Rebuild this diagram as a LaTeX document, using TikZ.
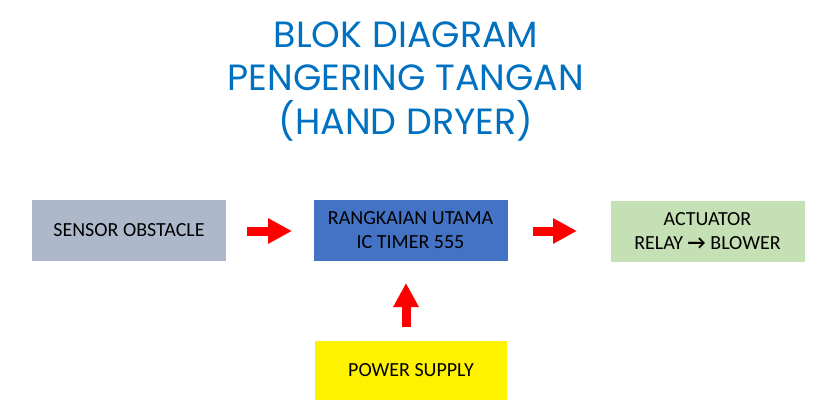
\documentclass[tikz,border=0pt]{standalone}
\usepackage{fontspec}
\setmainfont{Carlito}
\newfontfamily\titlefont{Poppins}
\usetikzlibrary{arrows.meta}
\definecolor{titleblue}{HTML}{0070C0}
\definecolor{sensorgray}{HTML}{ADB9CA}
\definecolor{mainblue}{HTML}{4472C4}
\definecolor{actgreen}{HTML}{C5E0B4}
\tikzset{
  blockbox/.style={minimum width=194pt, minimum height=61pt, inner sep=0pt, align=center, font=\fontsize{20}{24}\selectfont, text=black},
  titleline/.style={font=\titlefont\fontsize{36.5}{44}\selectfont, text=titleblue, anchor=base, inner sep=0pt},
  fatarrow/.style={draw=red, line width=9pt, -{Triangle[length=24pt,width=24pt]}, shorten >=0pt}
}
\begin{document}
\begin{tikzpicture}[x=1pt,y=-1pt]
\useasboundingbox (0,0) rectangle (820,420);
\node[titleline] (t1) at (406,48) {BLOK DIAGRAM};
\node[titleline] (t2) at (406,91) {PENGERING TANGAN};
\node[titleline] (t3) at (406,135) {(HAND DRYER)};
\node[blockbox, fill=sensorgray] (sensor) at (129,230.5) {SENSOR OBSTACLE};
\node[blockbox, fill=mainblue] (main) at (410.5,230) {RANGKAIAN UTAMA\\IC TIMER 555};
\node[blockbox, fill=actgreen] (act) at (707.5,231) {ACTUATOR\\RELAY {\bfseries →} BLOWER};
\node[blockbox, fill=yellow, minimum width=192pt, minimum height=59pt] (power) at (411,370.5) {POWER SUPPLY};
\coordinate (a1s) at (247,231);
\coordinate (a1e) at (292,231);
\coordinate (a2s) at (533,231);
\coordinate (a2e) at (577,231);
\coordinate (a3s) at (406,327);
\coordinate (a3e) at (406,283);
\draw[fatarrow] (a1s) -- (a1e);
\draw[fatarrow] (a2s) -- (a2e);
\draw[fatarrow] (a3s) -- (a3e);
\end{tikzpicture}
\end{document}
